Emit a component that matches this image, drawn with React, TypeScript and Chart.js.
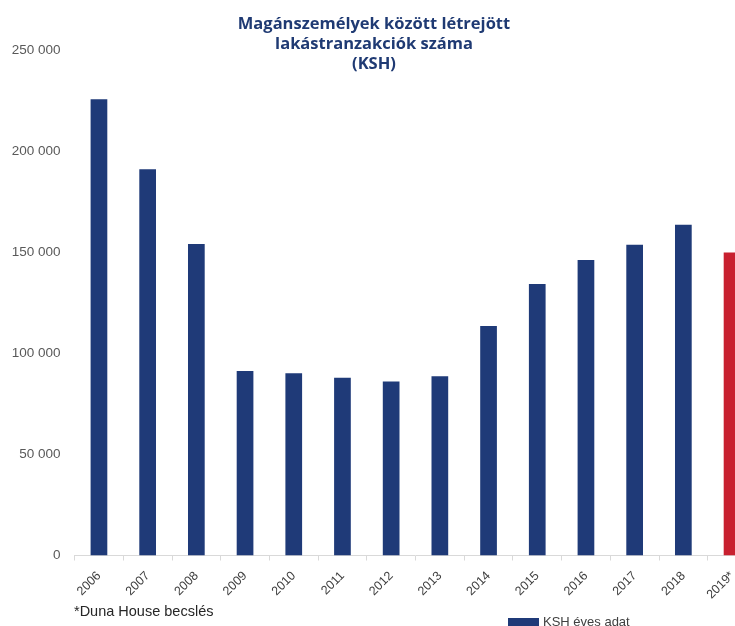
import React, { useEffect, useRef } from "react";
import { Chart, registerables } from "chart.js";

Chart.register(...registerables);

const categories = ["2006", "2007", "2008", "2009", "2010", "2011", "2012", "2013", "2014", "2015", "2016", "2017", "2018", "2019*"];
const kshValues = [225600, 191000, 154100, 91200, 90100, 87900, 86000, 88600, 113500, 134300, 146100, 153700, 163600, null];
const dunaHouseValues = [null, null, null, null, null, null, null, null, null, null, null, null, null, 149800];
const titleLines = ["Magánszemélyek között létrejött", "lakástranzakciók száma", "(KSH)"];
const footnote = "*Duna House becslés";
const kshLabel = "KSH éves adat";
const dunaLabel = "Duna House becslés";
const yMax = 250000;
const yStep = 50000;

const NAVY = "#1f3a78";
const RED = "#c8202f";
const TITLE_COLOR = "#1f3a73";

const fmt = (v: number) => String(v).replace(/\B(?=(\d{3})+(?!\d))/g, " ");

const decorations = {
  id: "decorations",
  afterDraw(chart: any) {
    const ctx = chart.ctx;
    ctx.save();
    // Title
    ctx.fillStyle = TITLE_COLOR;
    ctx.font = "700 16.5px 'Open Sans'";
    ctx.textAlign = "center";
    ctx.textBaseline = "middle";
    titleLines.forEach((line, i) => {
      ctx.fillText(line, 374, 24 + i * 20);
    });
    // Footnote
    ctx.fillStyle = "#262626";
    ctx.font = "14.5px 'Liberation Sans'";
    ctx.textAlign = "left";
    ctx.fillText(footnote, 74, 612);
    // Legend (only the visible first entry fits in the frame)
    ctx.fillStyle = NAVY;
    ctx.fillRect(508, 618, 31, 12);
    ctx.fillStyle = "#404040";
    ctx.font = "13px 'Liberation Sans'";
    ctx.fillText(kshLabel, 543, 622);
    ctx.restore();
  },
};

export default function App() {
  const canvasRef = useRef<HTMLCanvasElement | null>(null);

  useEffect(() => {
    if (!canvasRef.current) return;
    const chart = new Chart(canvasRef.current, {
      type: "bar",
      data: {
        labels: categories,
        datasets: [
          {
            label: kshLabel,
            data: kshValues as any,
            backgroundColor: NAVY,
            barPercentage: 0.343,
            categoryPercentage: 1,
          },
          {
            label: dunaLabel,
            data: dunaHouseValues as any,
            backgroundColor: RED,
            barPercentage: 0.343,
            categoryPercentage: 1,
          },
        ],
      },
      options: {
        animation: false,
        responsive: true,
        maintainAspectRatio: false,
        layout: { padding: { top: 50, left: 0, right: 18.6, bottom: 0 } },
        plugins: {
          legend: { display: false },
          title: { display: false },
          tooltip: { enabled: false },
        },
        scales: {
          x: {
            stacked: true,
            afterFit: (scale: any) => {
              scale.height = 84.5;
            },
            grid: {
              display: true,
              drawOnChartArea: false,
              drawTicks: true,
              tickLength: 5,
              color: "#d9d9d9",
              offset: true,
            },
            border: { display: true, color: "#d9d9d9" },
            ticks: {
              autoSkip: false,
              maxRotation: 45,
              minRotation: 45,
              padding: 8,
              color: "#404040",
              font: { family: "'Liberation Sans'", size: 12.5 },
            },
          },
          y: {
            stacked: true,
            min: 0,
            max: yMax,
            afterFit: (scale: any) => {
              scale.width = 74.6;
            },
            grid: { display: false, drawTicks: false },
            border: { display: false },
            ticks: {
              stepSize: yStep,
              padding: 14,
              color: "#595959",
              font: { family: "'Liberation Sans'", size: 13.5 },
              callback: (v: any) => fmt(Number(v)),
            },
          },
        },
      },
      plugins: [decorations],
    });
    return () => chart.destroy();
  }, []);

  return (
    <div style={{ position: "absolute", left: 0, top: 0, width: 735, height: 626, overflow: "hidden", background: "#fff" }}>
      <div style={{ position: "relative", width: 775, height: 640 }}>
        <canvas ref={canvasRef} />
      </div>
    </div>
  );
}
